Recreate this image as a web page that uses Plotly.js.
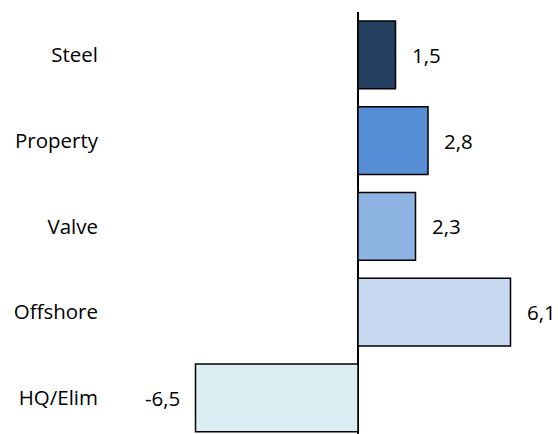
<!DOCTYPE html>
<html>
<head>
<meta charset="utf-8">
<script src="https://cdn.plot.ly/plotly-3.0.1.min.js"></script>
<style>html,body{margin:0;padding:0;background:#fff;}#chart{width:558px;height:434px;}</style>
</head>
<body>
<div id="chart"></div>
<script>
const categories = ["Steel", "Property", "Valve", "Offshore", "HQ/Elim"];
const values = [1.5, 2.8, 2.3, 6.1, -6.5];
const valueLabels = ["1,5", "2,8", "2,3", "6,1", "-6,5"];
const barColors = ["#254061", "#558ED5", "#8EB4E3", "#C6D9F1", "#DBEEF4"];

const font = "'Open Sans', sans-serif";

const trace = {
  type: "bar",
  orientation: "h",
  y: categories,
  x: values,
  marker: { color: barColors, line: { color: "#000", width: 1.5 } },
  hoverinfo: "none"
};

const annotations = values.map((v, i) => ({
  x: v, y: categories[i], xref: "x", yref: "y",
  text: valueLabels[i], showarrow: false,
  xanchor: v >= 0 ? "left" : "right",
  xshift: v >= 0 ? 14 : -14,
  font: { family: font, size: 20.5, color: "#000" }
}));

const layout = {
  width: 558, height: 434,
  margin: { l: 103, r: 0, t: 12, b: 0 },
  paper_bgcolor: "#fff", plot_bgcolor: "#fff",
  showlegend: false,
  bargap: 0.21,
  xaxis: {
    range: [-10.2, 8.0],
    showgrid: false, showticklabels: false, ticks: "",
    zeroline: true, zerolinecolor: "#000", zerolinewidth: 1.3,
    showline: false, fixedrange: true
  },
  yaxis: {
    type: "category",
    range: [4.421, -0.5],
    showgrid: false, ticks: "", showline: false, zeroline: false,
    tickfont: { family: font, size: 20.5, color: "#000" },
    ticklabelstandoff: 4,
    fixedrange: true
  },
  annotations: annotations
};

Plotly.newPlot("chart", [trace], layout, { displayModeBar: false, staticPlot: true });
</script>
</body>
</html>
